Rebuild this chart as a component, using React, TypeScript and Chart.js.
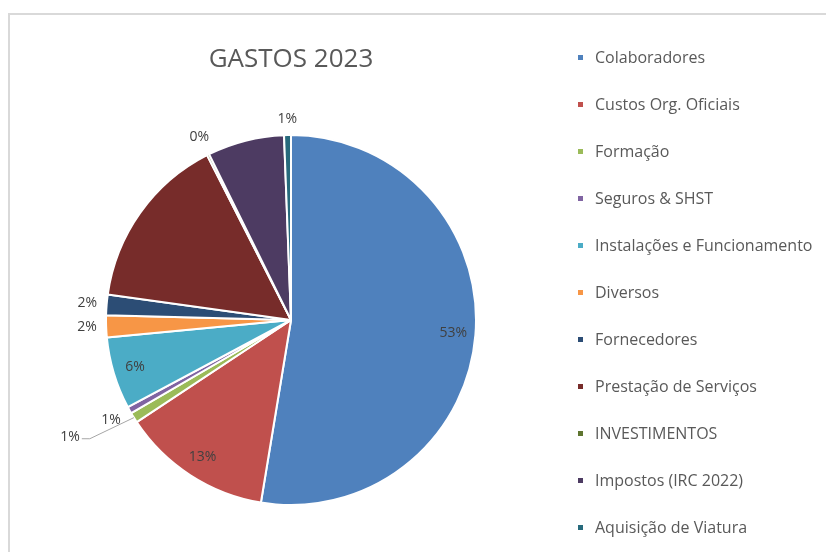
import { useEffect, useRef } from 'react'
import { Chart, PieController, ArcElement, Title } from 'chart.js'
import type { Plugin } from 'chart.js'

Chart.register(PieController, ArcElement, Title)

const categories = [
  'Colaboradores',
  'Custos Org. Oficiais',
  'Formação',
  'Seguros & SHST',
  'Instalações e Funcionamento',
  'Diversos',
  'Fornecedores',
  'Prestação de Serviços',
  'INVESTIMENTOS',
  'Impostos (IRC 2022)',
  'Aquisição de Viatura',
]
// share of total spend, in %
const shares = [52.6, 13.1, 0.9, 0.6, 6.3, 1.9, 1.8, 15.3, 0.2, 6.7, 0.6]
const colors = [
  '#4f81bd', '#c0504d', '#9bbb59', '#8064a2', '#4bacc6', '#f79646',
  '#2c4d75', '#772c2a', '#5f7530', '#4d3b62', '#276a7c',
]

const TEXT = '#595959'
const LABEL = '#404040'

function luminance(hex: string) {
  const n = parseInt(hex.slice(1), 16)
  const r = (n >> 16) & 255, g = (n >> 8) & 255, b = n & 255
  return (0.2126 * r + 0.7152 * g + 0.0722 * b) / 255
}

// percentage labels: inside for big slices, outside (with leader if pushed) for small ones
const sliceLabels: Plugin<'pie'> = {
  id: 'sliceLabels',
  afterDatasetsDraw(chart) {
    const { ctx } = chart
    const meta = chart.getDatasetMeta(0)
    const data = chart.data.datasets[0].data as number[]
    const total = data.reduce((a, b) => a + b, 0)
    const placed: { x: number; y: number; w: number; h: number }[] = []

    ctx.save()
    ctx.font = '14px "Open Sans"'
    ctx.fillStyle = LABEL
    ctx.textAlign = 'center'
    ctx.textBaseline = 'middle'

    for (let i = meta.data.length - 1; i >= 0; i--) {
      const arc = meta.data[i] as unknown as ArcElement
      const { x, y, startAngle, endAngle, outerRadius } = arc.getProps(
        ['x', 'y', 'startAngle', 'endAngle', 'outerRadius'], true,
      ) as any
      const pct = (data[i] / total) * 100
      const text = Math.round(pct) + '%'
      const mid = (startAngle + endAngle) / 2
      const cos = Math.cos(mid)
      const sin = Math.sin(mid)

      if (pct >= 5) {
        // dark label disappears on the dark slices, as in the original
        if (luminance(colors[i]) < 0.3) continue
        ctx.fillText(text, x + cos * outerRadius * 0.88, y + sin * outerRadius * 0.88)
        continue
      }

      const w = ctx.measureText(text).width
      const h = 14
      const d = outerRadius + 9 + (Math.abs(cos) * w) / 2 + (Math.abs(sin) * h) / 2
      let lx = x + cos * d
      let ly = y + sin * d
      const hits = () =>
        placed.some(p => Math.abs(p.x - lx) < (p.w + w) / 2 + 6 && Math.abs(p.y - ly) < (p.h + h) / 2 + 6)
      let moved = false
      while (hits()) {
        lx += Math.sign(cos) * 2
        moved = true
      }
      if (moved) {
        lx += Math.sign(cos) * 14
        ly += Math.sign(sin) * 8
        const ex = lx - Math.sign(cos) * (w / 2 + 2)
        ctx.save()
        ctx.strokeStyle = '#a6a6a6'
        ctx.lineWidth = 1
        ctx.beginPath()
        ctx.moveTo(ex, ly + 2)
        ctx.lineTo(ex - Math.sign(cos) * 8, ly + 2)
        ctx.lineTo(x + cos * outerRadius, y + sin * outerRadius)
        ctx.stroke()
        ctx.restore()
      }
      placed.push({ x: lx, y: ly, w, h })
      ctx.fillText(text, lx, ly)
    }
    ctx.restore()
  },
}

export default function App() {
  const canvasRef = useRef<HTMLCanvasElement>(null)

  useEffect(() => {
    if (!canvasRef.current) return
    const chart = new Chart(canvasRef.current, {
      type: 'pie',
      data: {
        labels: categories,
        datasets: [{
          data: shares,
          backgroundColor: colors,
          borderColor: '#ffffff',
          borderWidth: 2,
          radius: 185,
        }],
      },
      options: {
        responsive: true,
        maintainAspectRatio: false,
        animation: false,
        events: [],
        layout: { padding: 0 },
        plugins: {
          legend: { display: false },
          tooltip: { enabled: false },
          title: {
            display: true,
            text: 'GASTOS 2023',
            color: TEXT,
            font: { family: 'Open Sans', size: 26, weight: 'normal' },
            padding: { top: 44, bottom: 12.8 },
          },
        },
      },
      plugins: [sliceLabels],
    })
    return () => chart.destroy()
  }, [])

  return (
    <div style={{ position: 'absolute', left: 0, top: 0, width: 826, height: 552, overflow: 'hidden', background: '#fff' }}>
      <div style={{
        position: 'absolute', left: 8, top: 13, width: 900, height: 700,
        borderLeft: '2px solid #d9d9d9', borderTop: '2px solid #d9d9d9',
      }} />
      <div style={{ position: 'absolute', left: 0, top: 0, width: 582, height: 552 }}>
        <canvas ref={canvasRef} role="img" aria-label="Pie chart of 2023 expenses by category." />
      </div>
      <ul style={{
        position: 'absolute', left: 578, top: 33.5, margin: 0, padding: 0, listStyle: 'none',
        fontFamily: '"Open Sans", sans-serif', fontSize: 16, color: TEXT,
      }}>
        {categories.map((c, i) => (
          <li key={c} style={{ height: 47, display: 'flex', alignItems: 'center', whiteSpace: 'nowrap' }}>
            <span style={{ width: 5, height: 5, background: colors[i], marginRight: 12, flex: 'none' }} />
            {c}
          </li>
        ))}
      </ul>
    </div>
  )
}
